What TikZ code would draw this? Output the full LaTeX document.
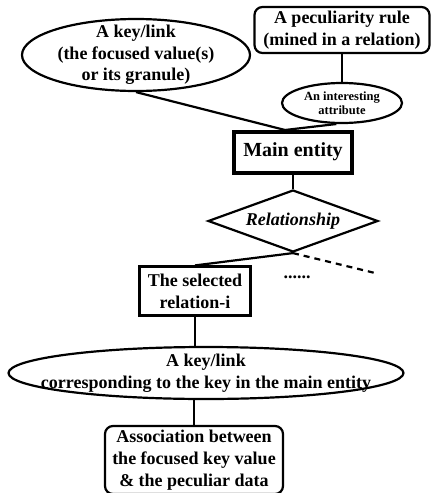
\documentclass[tikz,border=0pt]{standalone}
\usepackage{fontspec}
\setmainfont{Liberation Serif}
\usetikzlibrary{shapes.geometric}
\begin{document}
\begin{tikzpicture}[x=1pt,y=-1pt,
  every node/.style={font=\fontsize{18}{21.7}\selectfont\bfseries, align=center, inner sep=0pt},
  ln/.style={line width=2.2pt},
  ell/.style={ellipse, draw, line width=2.2pt},
  rbox/.style={rectangle, draw, rounded corners=8pt, line width=2.2pt},
  sbox/.style={rectangle, draw, line width=2.2pt}]
\useasboundingbox (0,0) rectangle (431,493);
\node[ell, inner xsep=-10pt, inner ysep=-8pt, minimum width=228pt, minimum height=72pt] (key1) at (136,55)
  {A key/link\\(the focused value(s)\\or its granule)};
\node[rbox, minimum width=175pt, minimum height=46pt] (rule) at (342,30)
  {A peculiarity rule\\(mined in a relation)};
\node[ell, minimum width=120pt, minimum height=40pt,
  font=\fontsize{12.5}{13.5}\selectfont\bfseries] (attr) at (342,103)
  {An interesting\\attribute};
\node[sbox, line width=4pt, minimum width=118pt, minimum height=41pt,
  font=\fontsize{20}{24}\selectfont\bfseries] (main) at (293,152)
  {Main entity};
\node[diamond, aspect=2.74, draw, line width=2.2pt, minimum width=170pt, minimum height=62pt,
  font=\fontsize{18}{21.7}\selectfont\bfseries\itshape] (rel) at (293,221) {Relationship};
\node[sbox, minimum width=111pt, minimum height=49pt] (sel) at (195,291)
  {The selected\\relation-i};
\node (dots) at (297,277) {......};
\node[ell, inner xsep=-35pt, inner ysep=-3pt, minimum width=395pt, minimum height=52pt] (key2) at (206,373)
  {A key/link\\corresponding to the key in the main entity};
\node[rbox, minimum width=178pt, minimum height=68pt] (assoc) at (194,460)
  {Association between\\the focused key value\\\& the peculiar data};
\coordinate (mj) at (285,130);
\coordinate (dashend) at (375,273);
\draw[ln] (key1.south) -- (mj);
\draw[ln] (attr.255) -- (mj);
\draw[ln] (rule.south) -- (attr.north);
\draw[ln] (main.south) -- (rel.north);
\draw[ln] (rel.south) -- (sel.north);
\draw[ln, dash pattern=on 6pt off 5pt] (rel.south) -- (dashend);
\draw[ln] (sel.south) -- (sel.south |- key2.north);
\draw[ln] (assoc.north) -- (assoc.north |- key2.south);
\end{tikzpicture}
\end{document}
